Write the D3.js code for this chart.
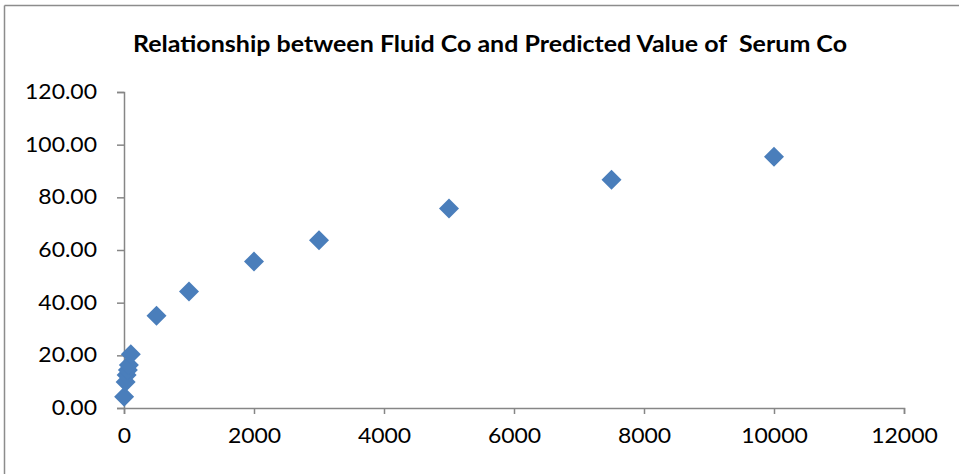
<!DOCTYPE html>
<html>
<head>
<meta charset="utf-8">
<script src="https://cdn.jsdelivr.net/npm/d3@7"></script>
<style>
  body { margin: 0; background: #fff; }
  text { font-family: Lato, "Open Sans", sans-serif; }
</style>
</head>
<body>
<div id="chart"></div>
<script>
// data
var fluidCo = [2, 25, 40, 60, 75, 105, 500, 1000, 2000, 3000, 5000, 7500, 10000]
var serumCo = [4.3, 9.9, 12.5, 14.4, 16.3, 20.4, 35.0, 44.2, 55.6, 63.7, 75.8, 86.7, 95.4]
var xTicks = [0, 2000, 4000, 6000, 8000, 10000, 12000]
var yTicks = [0, 20, 40, 60, 80, 100, 120]
var title = 'Relationship between Fluid Co and Predicted Value of  Serum Co'

var width = 959
var height = 474
var margin = { top: 92, bottom: 66, left: 124, right: 55 }
var innerWidth = width - margin.left - margin.right
var innerHeight = height - margin.top - margin.bottom

var svg = d3.select('#chart').append('svg').attr('width', width).attr('height', height)

// chart frame: only its left and top edge are inside the picture
var frame = svg.append('g').attr('stroke', '#8c8c8c').attr('stroke-width', 1.5)
frame.append('line').attr('x1', 4.5).attr('x2', 4.5).attr('y1', 5.5).attr('y2', height)
frame.append('line').attr('x1', 4.5).attr('x2', width).attr('y1', 5.5).attr('y2', 5.5)

svg.append('text').attr('x', 490).attr('y', 52).attr('text-anchor', 'middle')
    .attr('font-size', 23.5).attr('font-weight', 'bold').style('white-space', 'pre')
    .attr('textLength', 714).attr('lengthAdjust', 'spacingAndGlyphs')
    .text(title)

var g = svg.append('g').attr('transform', `translate(${margin.left},${margin.top})`)

var xScale = d3.scaleLinear().domain([0, 12000]).range([0, innerWidth])
var yScale = d3.scaleLinear().domain([0, 120]).range([innerHeight, 0])

var xAxis = d3.axisBottom(xScale).tickValues(xTicks).tickSize(6).tickPadding(14).tickFormat(d3.format('d'))
var yAxis = d3.axisLeft(yScale).tickValues(yTicks).tickSize(7).tickPadding(20).tickFormat(d3.format('.2f'))

var gy = g.append('g').call(yAxis)
var gx = g.append('g').attr('transform', `translate(0,${innerHeight})`).call(xAxis)

;[gx, gy].forEach(function (a) {
    a.select('.domain').attr('stroke', '#868686').attr('stroke-width', 1.5)
    a.selectAll('line').attr('stroke', '#868686').attr('stroke-width', 1.5)
    a.selectAll('text').attr('font-size', 20.5).attr('fill', '#000')
        .style('font-family', 'Lato, "Open Sans", sans-serif')
        .each(function () {
            // the reference glyphs are a bit wider than Lato's
            var w = this.getComputedTextLength()
            d3.select(this).attr('textLength', w * 1.12).attr('lengthAdjust', 'spacingAndGlyphs')
        })
})

var pts = fluidCo.map(function (d, i) { return { x: d, y: serumCo[i] } })
var diamond = d3.symbol().type(d3.symbolSquare).size(200)

g.selectAll('path.pt').data(pts).join('path').attr('class', 'pt')
    .attr('d', diamond)
    .attr('transform', d => `translate(${xScale(d.x)},${yScale(d.y)}) rotate(45)`)
    .attr('fill', '#4a7ebb')
</script>
</body>
</html>
